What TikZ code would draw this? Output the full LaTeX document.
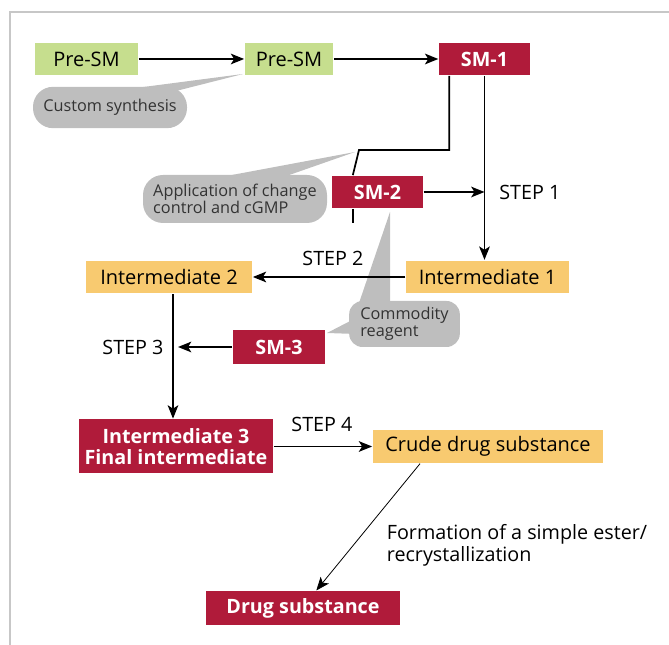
\documentclass[tikz,border=0pt]{standalone}
\usepackage{fontspec}
\setmainfont{Open Sans}
\usepackage{tikz}
\usetikzlibrary{arrows,arrows.meta,shapes}

\definecolor{smgreen}{RGB}{198,222,142}
\definecolor{smred}{RGB}{176,27,58}
\definecolor{smyellow}{RGB}{248,202,112}
\definecolor{callgray}{RGB}{190,190,190}

\begin{document}
\begin{tikzpicture}[x=0.75pt,y=-0.75pt,>={Stealth[length=10pt,width=8pt,inset=2.5pt]},line width=1.3pt]

		\tikzstyle{presm}=[rectangle,fill=smgreen,minimum height=24pt,font=\fontsize{15}{17}\selectfont]
		\tikzstyle{sm}=[rectangle,fill=smred,text=white,minimum height=24pt,font=\bfseries\fontsize{14.8}{16}\selectfont]
		\tikzstyle{inter}=[rectangle,fill=smyellow,minimum height=24.5pt,font=\fontsize{15}{17}\selectfont]
		\tikzstyle{callout}=[rectangle,rounded corners=15pt,fill=callgray,text=black!80,align=left,inner sep=2pt,font=\fontsize{12.2}{13}\selectfont]
		\tikzstyle{steplabel}=[font=\fontsize{14.8}{14}\selectfont]

		\useasboundingbox (0,0) rectangle (669,645);
		\draw [black!22,line width=0.8pt] (10,645) -- (10,12) -- (669,12);

		% pointers of the callouts
		\fill [callgray] (243,74) -- (105,92) -- (172,92) -- cycle;
		\fill [callgray] (355,152) -- (205,180) -- (275,180) -- cycle;
		\fill [callgray] (390,212) -- (358,306) -- (390,306) -- cycle;
		\fill [callgray] (327,333) -- (356,318) -- (356,334) -- cycle;

		\node [presm,minimum width=77pt] (presmA) at (86.5,59) {Pre-SM};
		\node [presm,minimum width=66pt] (presmB) at (289,59) {Pre-SM};
		\node [sm,minimum width=68pt] (smA) at (484.5,59) {SM-1};
		\node [sm,minimum width=68pt] (smB) at (377.5,192) {SM-2};
		\node [inter,minimum width=122pt] (intA) at (487.5,277) {Intermediate 1};
		\node [inter,minimum width=124.5pt] (intB) at (169,277) {Intermediate 2};
		\node [sm,minimum width=69pt,minimum height=25.5pt] (smC) at (279,347) {SM-3};
		\node [sm,minimum width=145.5pt,minimum height=40.5pt,align=center] (intC) at (176,446.5) {Intermediate 3\\Final intermediate};
		\node [inter,minimum width=172.5pt] (crude) at (488,446.5) {Crude drug substance};
		\node [sm,minimum width=145.5pt,minimum height=25pt] (drug) at (303,608) {Drug substance};

		\node [callout,minimum width=115.5pt,minimum height=31pt] (custom) at (110,107.5) {Custom synthesis};
		\node [callout,minimum width=138pt,minimum height=36pt] (change) at (235,199) {Application of change\\control and cGMP};
		\node [callout,minimum width=83pt,minimum height=34.5pt,rounded corners=10pt] (commodity) at (404.5,324) {Commodity\\reagent};

		\node [steplabel,anchor=west] (stepA) at (494,192) {STEP 1};
		\node [steplabel] (stepB) at (333,258) {STEP 2};
		\node [steplabel] (stepC) at (133,347) {STEP 3};
		\node [steplabel] (stepD) at (322,424) {STEP 4};
		\node [steplabel,anchor=north west,inner sep=0pt,align=left] (ester) at (386,524) {Formation of a simple ester/\\recrystallization};

		\coordinate (jog) at (359,150);
		\coordinate (endC) at (178,347);

		\draw [->] (presmA) -- (presmB);
		\draw [->] (presmB) -- (smA);
		\draw [->] (smA) -- (smA |- intA.north);
		\draw ([xshift=-26.5]smA.south) |- (jog) -- ([xshift=-18.5]smB.north);
		\draw ([xshift=-18.5]smB.south) -- ++(0,14);
		\draw [->] (smB) -- (smB -| smA);
		\draw [->] (intA) -- (intB);
		\draw [->] (smC) -- (endC);
		\draw [->] ([xshift=3]intB.south) -- ([xshift=3]intB.south |- intC.north);
		\draw [->] (intC) -- (crude);
		\draw [->,line width=0.6pt] ([xshift=-51]crude.south) -- ([xshift=10]drug.north);
\end{tikzpicture}
\end{document}
